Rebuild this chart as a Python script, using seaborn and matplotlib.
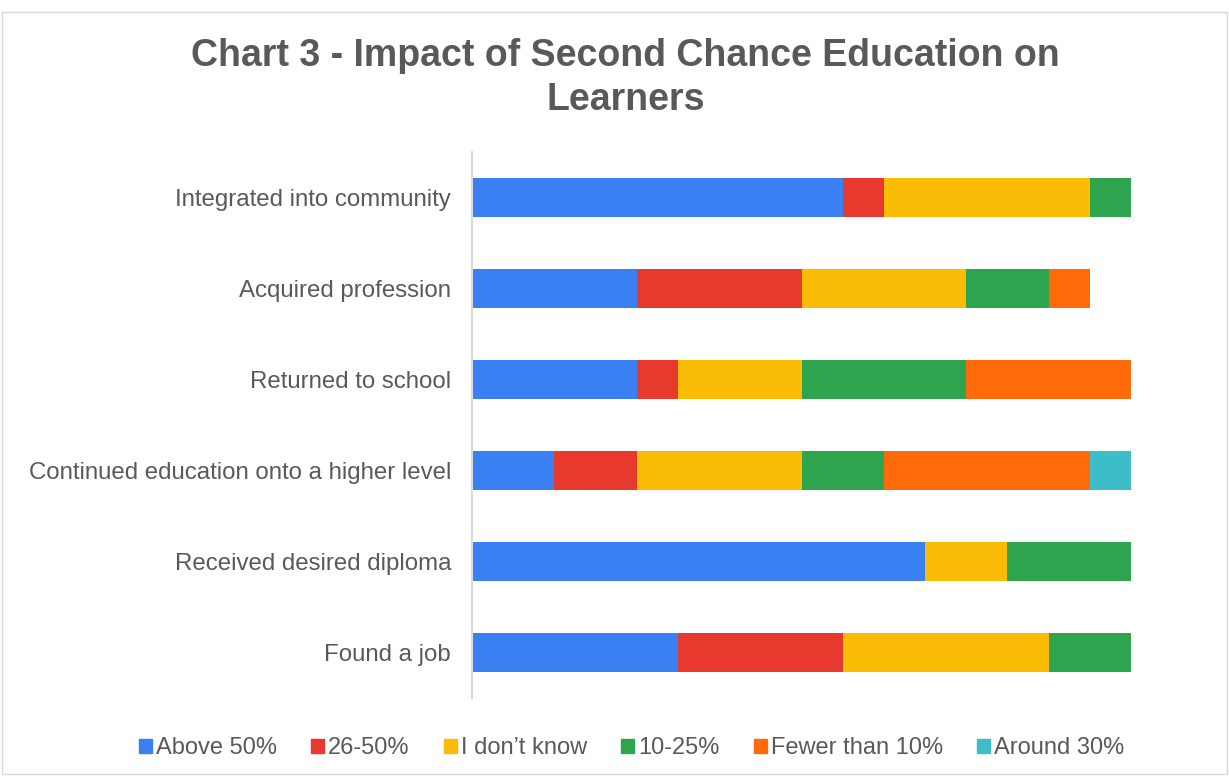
import numpy as np
import pandas as pd
import matplotlib
matplotlib.use("Agg")
import matplotlib.pyplot as plt
import matplotlib.patches as mpatches
import seaborn as sns

categories = ["Integrated into community", "Acquired profession", "Returned to school",
              "Continued education onto a higher level", "Received desired diploma", "Found a job"]
series_names = ["Above 50%", "26-50%", "I don\u2019t know", "10-25%", "Fewer than 10%", "Around 30%"]
above_50 = [9, 4, 4, 2, 11, 5]
r26_50 = [1, 4, 1, 2, 0, 4]
dont_know = [5, 4, 3, 4, 2, 5]
r10_25 = [1, 2, 4, 2, 3, 2]
fewer_10 = [0, 1, 4, 5, 0, 0]
around_30 = [0, 0, 0, 1, 0, 0]
colors = ["#3b80f2", "#e8392f", "#fbbc05", "#2ea44f", "#ff6a0a", "#3cbdc8"]

sns.set_theme(style="white")
plt.rcParams['font.family'] = ['Liberation Sans', 'DejaVu Sans']

fig = plt.figure(figsize=(12.29, 7.76), dpi=100)
ax = fig.add_axes([472/1229, 1-698/776, (1131-472)/1229, (698-152)/776])

values = [above_50, r26_50, dont_know, r10_25, fewer_10, around_30]
cum = np.cumsum(np.array(values), axis=0)
for i in reversed(range(len(series_names))):
    df = pd.DataFrame({"cat": categories, "val": cum[i]})
    sns.barplot(data=df, y="cat", x="val", color=colors[i], orient="h",
                width=0.42, ax=ax, saturation=1, edgecolor="none", linewidth=0)

ax.set_xlim(0, 16)
ax.set_ylim(5.5, -0.5)
ax.set_xlabel("")
ax.set_ylabel("")
ax.set_xticks([])
for s in ["top", "right", "bottom"]:
    ax.spines[s].set_visible(False)
ax.spines["left"].set_color("#d9d9d9")
ax.spines["left"].set_linewidth(1.5)
ax.tick_params(axis="y", labelsize=17.3, colors="#595959", length=0, pad=15)

fig.text(0.509, 1-78/776, "Chart 3 - Impact of Second Chance Education on\nLearners",
         ha="center", va="center", fontsize=27, fontweight="bold", color="#595959",
         linespacing=1.3)

handles = [mpatches.Patch(color=c, label=n) for c, n in zip(colors, series_names)]
fig.legend(handles=handles, loc="center", bbox_to_anchor=(0.514, 1-748/776), ncol=6,
           frameon=False, fontsize=17, handlelength=0.55, handleheight=0.55,
           handletextpad=0.15, columnspacing=1.47, labelcolor="#595959")

fig.add_artist(mpatches.Rectangle((0.002, 0.002), 0.996, 0.982, transform=fig.transFigure,
                                  fill=False, edgecolor="#d9d9d9", linewidth=1))
fig.savefig("out.png", dpi=100, facecolor="white")
